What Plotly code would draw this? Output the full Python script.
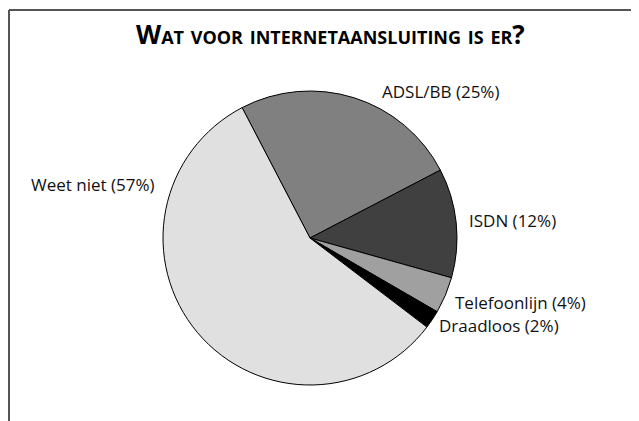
import plotly.graph_objects as go

categories = ["ADSL/BB", "ISDN", "Telefoonlijn", "Draadloos", "Weet niet"]
values = [25, 12, 4, 2, 57]
colors = ["#808080", "#404040", "#a0a0a0", "#000000", "#e0e0e0"]
title_text = "Wat voor internetaansluiting is er?"

OFF = 8  # page body margin
W, H = 639 - OFF, 421 - OFF
FONT = "Open Sans"

def px(x):
    return (x - OFF) / W

def py(y):
    return 1 - (y - OFF) / H

fig = go.Figure()
fig.add_trace(go.Pie(
    labels=categories,
    values=values,
    sort=False,
    direction="clockwise",
    rotation=-27.5,
    marker=dict(colors=colors, line=dict(color="#000000", width=1)),
    textinfo="none",
    hoverinfo="label+percent",
    showlegend=False,
    domain=dict(x=[px(163), px(457)], y=[py(385), py(91)]),
))

# label placements (pixel positions of text anchor)
label_pos = {
    "ADSL/BB": (380, 91.5, "left"),
    "ISDN": (467, 220, "left"),
    "Telefoonlijn": (453, 302, "left"),
    "Draadloos": (437, 325, "left"),
    "Weet niet": (157, 184, "right"),
}
total = sum(values)
for cat, v in zip(categories, values):
    x, y, anc = label_pos[cat]
    fig.add_annotation(
        x=px(x), y=py(y), xref="paper", yref="paper",
        text=f"{cat} ({round(100 * v / total)}%)",
        showarrow=False, xanchor=anc, yanchor="middle",
        font=dict(family=FONT, size=17, color="#111111"),
    )

fig.add_annotation(
    x=px(330), y=py(34), xref="paper", yref="paper",
    text=title_text, showarrow=False, xanchor="center", yanchor="middle",
    font=dict(family=FONT, size=26, color="#000000", weight="bold", variant="small-caps"),
)

# frame lines (top and left)
fig.add_shape(type="line", xref="paper", yref="paper",
              x0=px(9), x1=1, y0=py(10), y1=py(10),
              line=dict(color="#555555", width=2))
fig.add_shape(type="line", xref="paper", yref="paper",
              x0=px(9), x1=px(9), y0=py(10), y1=0,
              line=dict(color="#555555", width=2))

fig.update_layout(
    width=W, height=H,
    margin=dict(l=0, r=0, t=0, b=0),
    paper_bgcolor="#ffffff",
    plot_bgcolor="#ffffff",
)

fig.write_html("out.html")
